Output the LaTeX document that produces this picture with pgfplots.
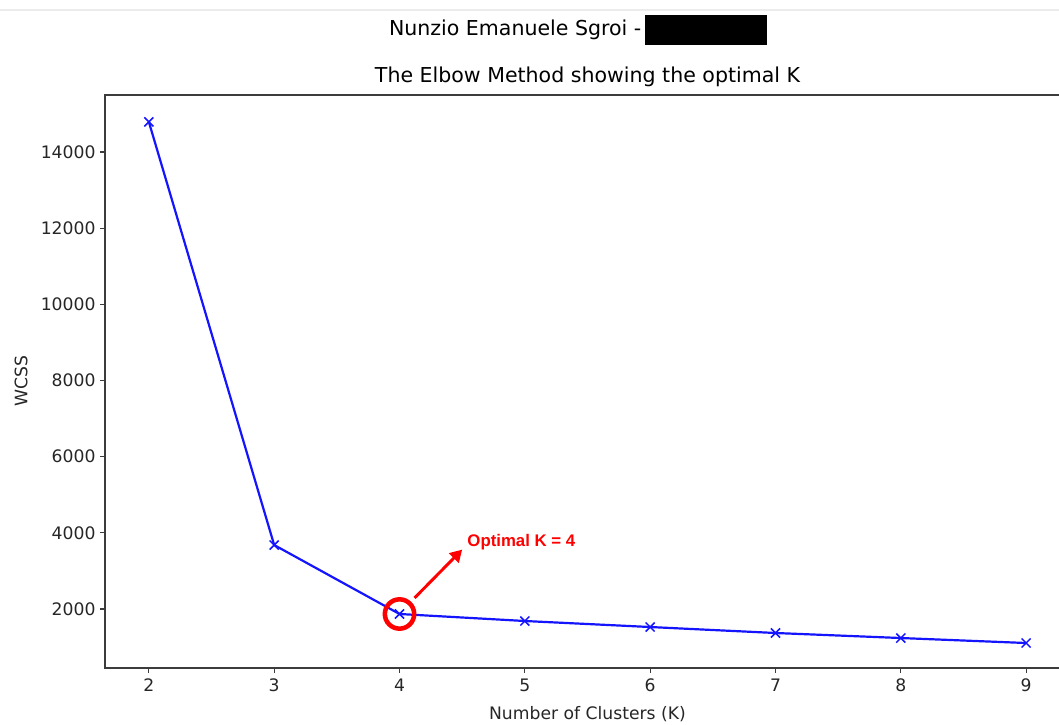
\documentclass[border=0pt]{standalone}
\usepackage{fontspec}
\setmainfont{DejaVu Sans}
\newfontfamily\annfont{Liberation Sans}
\usepackage{pgfplots}
\pgfplotsset{compat=1.18}
\usetikzlibrary{arrows.meta}

\definecolor{txt}{RGB}{38,38,38}
\definecolor{axgray}{RGB}{60,60,60}

\pgfplotstableread{
k wcss
2 14790
3 3680
4 1869
5 1685
6 1527
7 1370
8 1238
9 1107
}\elbow

\begin{document}
\begin{tikzpicture}
% 1 px of the reference = 0.75pt
\useasboundingbox (-78.75pt,-42pt) rectangle (715.5pt,501pt);
\clip (-78.75pt,-42pt) rectangle (715.5pt,501pt);
\draw[gray!15, line width=0.8pt] (-78.75pt,493.5pt) -- (715.5pt,493.5pt);
\begin{axis}[
    scale only axis,
    width=723.75pt, height=429.75pt,
    xmin=1.65, xmax=9.35,
    ymin=451, ymax=15497,
    xtick={2,...,9},
    ytick={2000,4000,...,14000},
    scaled y ticks=false,
    /pgf/number format/assume math mode=true,
    /pgf/number format/1000 sep={},
    tick align=outside,
    tick pos=left,
    major tick length=3.6pt,
    axis line style={axgray, line width=0.85pt},
    every tick/.style={axgray, line width=0.85pt},
    tick label style={font=\fontsize{12.9}{15}\selectfont, text=txt},
    xticklabel style={yshift=-1pt},
    label style={font=\fontsize{12.9}{15}\selectfont, text=txt},
    xlabel={Number of Clusters (K)},
    ylabel={WCSS},
    xlabel style={yshift=-4pt},
    ylabel style={yshift=3pt},
    title={The Elbow Method showing the optimal K},
    title style={font=\fontsize{15.4}{18}\selectfont, text=black, yshift=-3pt},
    clip=false,
]
\addplot[color={rgb,255:red,20;green,20;blue,255}, line width=1.65pt,
    mark=x, mark size=4.8pt, mark options={line width=1.15pt}]
    table[x=k, y=wcss] {\elbow};
\addplot[red, only marks, mark=o, mark size=11pt, mark options={line width=3.4pt}]
    coordinates {(4,1869)};
\draw[red, line width=2.2pt, -{Triangle[length=9pt,width=10pt]}]
    (axis cs:4.12,2290) -- (axis cs:4.50,3560);
\node[anchor=west, text=red, font=\annfont\bfseries\fontsize{12.6}{15}\selectfont, inner sep=0pt]
    at (axis cs:4.54,3760) {Optimal K = 4};
\end{axis}
\node[anchor=east, font=\fontsize{15.4}{18}\selectfont, inner sep=0pt]
    at (405pt,478.5pt) {Nunzio Emanuele Sgroi -\,};
\fill[black] (405pt,467.25pt) rectangle (496.5pt,489.75pt);
\end{tikzpicture}
\end{document}
